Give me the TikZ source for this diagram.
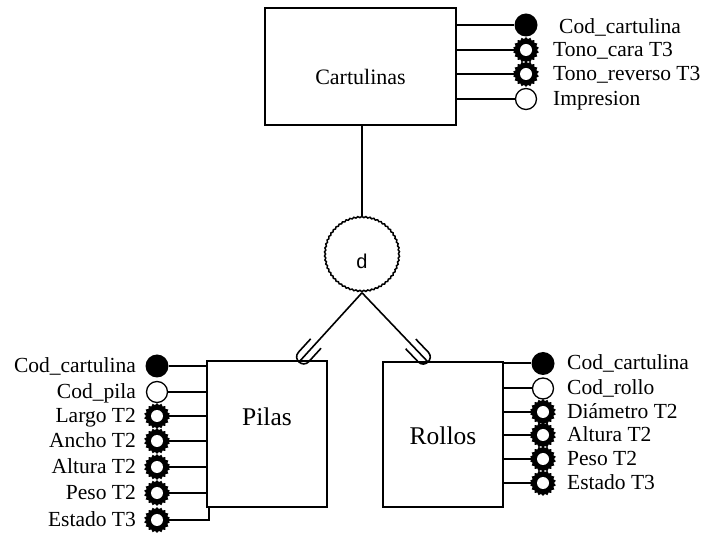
\documentclass[tikz,border=0pt]{standalone}
\usepackage{fontspec}
\setmainfont{Liberation Serif}
\newfontfamily\arialfont{Liberation Sans}
\usetikzlibrary{shapes.geometric,calc,decorations.pathmorphing}
\begin{document}
\begin{tikzpicture}[x=1pt,y=-1pt,
 ent/.style={draw, line width=2pt, inner sep=0pt},
 lbl/.style={font=\fontsize{21.5}{24}\selectfont, inner sep=0pt},
 keyat/.style={circle, fill=black, minimum size=23pt, inner sep=0pt},
 plainat/.style={circle, draw, fill=white, line width=1.3pt, minimum size=21pt, inner sep=0pt},
 multiat/.style={star, star points=18, star point ratio=1.18, fill=black, minimum size=26pt, inner sep=0pt,
   path picture={\fill[white] (path picture bounding box.center) circle (6pt);}},
 link/.style={line width=2pt},
 isa/.style={line width=1.6pt}
]
\useasboundingbox (0,0) rectangle (705,534);

% entities
\node[ent, minimum width=191pt, minimum height=117pt,
  label={[font=\fontsize{22}{24}\selectfont, yshift=-10pt]center:Cartulinas}] (cart) at (360.5,66.5) {};
\node[ent, minimum width=120pt, minimum height=146pt,
  label={[font=\fontsize{25.5}{28}\selectfont, yshift=17pt]center:Pilas}] (pilas) at (267,434) {};
\node[ent, minimum width=120pt, minimum height=145pt,
  label={[font=\fontsize{25.5}{28}\selectfont, yshift=-1pt]center:Rollos}] (rollos) at (443,434.5) {};

% disjoint circle
\node[circle, draw, line width=1.5pt, minimum size=74pt, inner sep=0pt,
  decorate, decoration={snake, amplitude=0.6pt, segment length=4pt},
  label={[font=\arialfont\fontsize{20}{22}\selectfont, yshift=-6pt]center:d}] (d) at (362,255) {};
\draw[link] (cart.south -| d.north) -- (d.north);

\coordinate (pe) at (299,362);
\coordinate (re) at (428,362);
\draw[isa] (d.south) -- (pe);
\draw[isa] (d.south) -- (re);
\begin{scope}[shift={(pe)}, rotate=227.6]
  \draw[isa] (-25,7) -- (-7,7) .. controls (2.3,7) and (2.3,-7) .. (-7,-7) -- (-25,-7);
\end{scope}
\begin{scope}[shift={(re)}, rotate=-46.3]
  \draw[isa] (-25,7) -- (-7,7) .. controls (2.3,7) and (2.3,-7) .. (-7,-7) -- (-25,-7);
\end{scope}

% Cartulinas attributes
\node[keyat] (c1) at (526,25) {};
\node[multiat] (c2) at (526,50) {};
\node[multiat] (c3) at (526,74) {};
\node[plainat] (c4) at (526,99) {};
\foreach \n in {c1,c2,c3,c4} \draw[link] (cart.east |- \n) -- (\n);
\node[lbl, anchor=base west] (tc1) at (559,34) {Cod\_cartulina};
\node[lbl, anchor=base west] (tc2) at (553,57) {Tono\_cara T3};
\node[lbl, anchor=base west] (tc3) at (553,81) {Tono\_reverso T3};
\node[lbl, anchor=base west] (tc4) at (553,106) {Impresion};

% Pilas attributes
\node[keyat] (p1) at (157,366) {};
\node[plainat] (p2) at (157,392) {};
\node[multiat] (p3) at (157,416) {};
\node[multiat] (p4) at (157,441) {};
\node[multiat] (p5) at (157,467) {};
\node[multiat] (p6) at (157,493) {};
\node[multiat] (p7) at (157,520) {};
\foreach \n in {p1,p2,p3,p4,p5,p6} \draw[link] (pilas.west |- \n) -- (\n);
\coordinate (pbend) at ($(pilas.south west)+(3,0)$);
\draw[link] (p7) -| (pbend);
\node[lbl, anchor=base east] (tp1) at (136,373) {Cod\_cartulina};
\node[lbl, anchor=base east] (tp2) at (136,399) {Cod\_pila};
\node[lbl, anchor=base east] (tp3) at (136,423) {Largo T2};
\node[lbl, anchor=base east] (tp4) at (136,448) {Ancho T2};
\node[lbl, anchor=base east] (tp5) at (136,474) {Altura T2};
\node[lbl, anchor=base east] (tp6) at (136,500) {Peso T2};
\node[lbl, anchor=base east] (tp7) at (136,527) {Estado T3};

% Rollos attributes
\node[keyat] (r1) at (543,363.5) {};
\node[plainat] (r2) at (543,388.5) {};
\node[multiat] (r3) at (543,412) {};
\node[multiat] (r4) at (543,435) {};
\node[multiat] (r5) at (543,459) {};
\node[multiat] (r6) at (543,483) {};
\foreach \n in {r1,r2,r3,r4,r5,r6} \draw[link] (rollos.east |- \n) -- (\n);
\node[lbl, anchor=base west] (tr1) at (567,370) {Cod\_cartulina};
\node[lbl, anchor=base west] (tr2) at (567,395) {Cod\_rollo};
\node[lbl, anchor=base west] (tr3) at (567,419) {Diámetro T2};
\node[lbl, anchor=base west] (tr4) at (567,442) {Altura T2};
\node[lbl, anchor=base west] (tr5) at (567,466) {Peso T2};
\node[lbl, anchor=base west] (tr6) at (567,490) {Estado T3};
\end{tikzpicture}
\end{document}
